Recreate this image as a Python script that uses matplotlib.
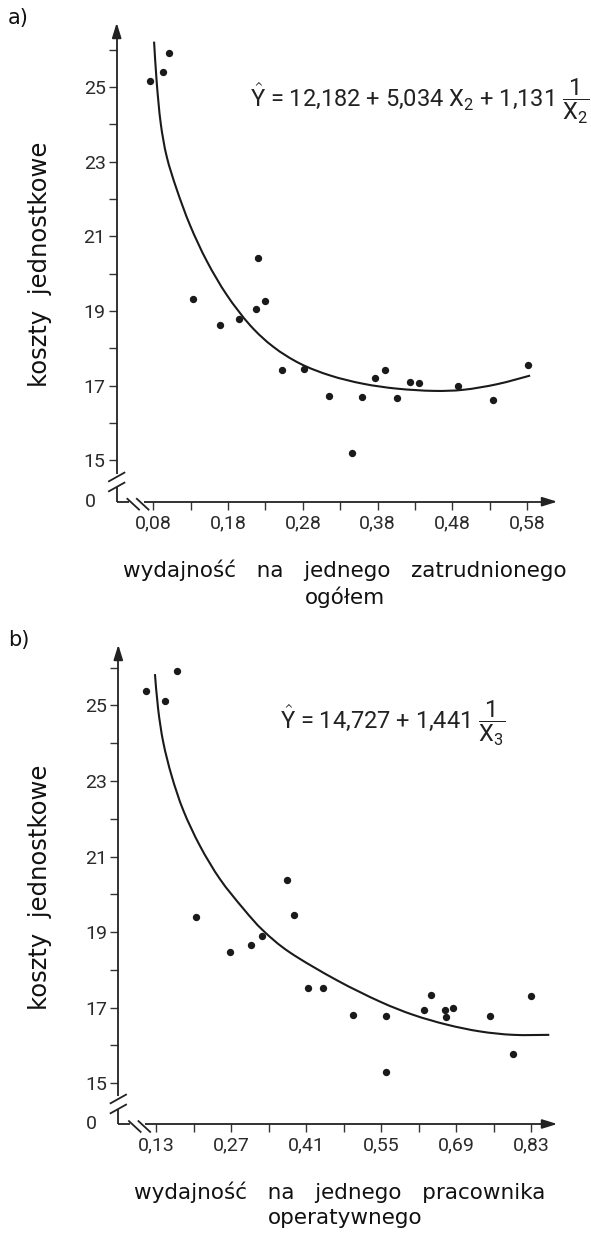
import numpy as np
import matplotlib
matplotlib.use('Agg')
import matplotlib.pyplot as plt
from matplotlib.path import Path
from matplotlib.patches import PathPatch

plt.rcParams['font.family'] = ['DejaVu Sans']
plt.rcParams['mathtext.fontset'] = 'custom'
plt.rcParams['mathtext.rm'] = 'Roboto'
plt.rcParams['mathtext.it'] = 'Roboto'

# dane - wykres a)
x2_pkt = [0.076, 0.093, 0.101, 0.133, 0.169, 0.194, 0.217, 0.220, 0.229, 0.252, 0.281,
          0.315, 0.346, 0.359, 0.376, 0.390, 0.406, 0.424, 0.436, 0.487, 0.535, 0.581]
y2_pkt = [25.17, 25.40, 25.91, 19.32, 18.62, 18.78, 19.05, 20.42, 19.28, 17.42, 17.45,
          16.71, 15.20, 16.70, 17.21, 17.41, 16.68, 17.11, 17.07, 17.00, 16.61, 17.55]
# krzywa
x2_krz = [0.081, 0.0846, 0.0899, 0.0979, 0.1113, 0.1291, 0.1515, 0.1783, 0.2094, 0.2406,
          0.2764, 0.317, 0.361, 0.406, 0.455, 0.495, 0.540, 0.584]
y2_krz = [26.22, 25.11, 24.03, 23.14, 22.26, 21.30, 20.34, 19.43, 18.62, 18.04,
          17.59, 17.27, 17.05, 16.92, 16.86, 16.89, 17.04, 17.27]
xt2 = [0.08, 0.18, 0.28, 0.38, 0.48, 0.58]
xt2_lab = ['0,08', '0,18', '0,28', '0,38', '0,48', '0,58']
xt2_min = [0.13, 0.23, 0.33, 0.43, 0.53]

# dane - wykres b)
x3_pkt = [0.112, 0.147, 0.170, 0.205, 0.268, 0.308, 0.328, 0.374, 0.388, 0.414, 0.442,
          0.498, 0.559, 0.559, 0.630, 0.643, 0.670, 0.671, 0.684, 0.753, 0.797, 0.829]
y3_pkt = [25.39, 25.13, 25.90, 19.40, 18.47, 18.65, 18.89, 20.39, 19.46, 17.51, 17.53,
          16.81, 16.79, 15.30, 16.94, 17.34, 16.94, 16.75, 16.99, 16.79, 15.78, 17.32]
x3_krz = [0.128, 0.134, 0.1436, 0.1593, 0.181, 0.2121, 0.2495, 0.293, 0.330, 0.380,
          0.467, 0.548, 0.610, 0.673, 0.735, 0.797, 0.864]
y3_krz = [25.83, 24.90, 24.02, 23.13, 22.22, 21.28, 20.40, 19.62, 19.04, 18.46,
          17.73, 17.16, 16.81, 16.55, 16.37, 16.28, 16.28]
xt3 = [0.13, 0.27, 0.41, 0.55, 0.69, 0.83]
xt3_lab = ['0,13', '0,27', '0,41', '0,55', '0,69', '0,83']
xt3_min = [0.20, 0.34, 0.48, 0.62, 0.76]

yt = [15, 17, 19, 21, 23, 25]
yt_lab = ['15', '17', '19', '21', '23', '25']
yt_min = [16, 18, 20, 22, 24, 26]

W, H = 591, 1233
fig = plt.figure(figsize=(W / 100, H / 100), dpi=100)
KOLOR = '#1a1a1a'


def gladka(ax, x, y):
    # krzywa Beziera przez odczytane punkty (Catmull-Rom)
    p = np.column_stack([x, y])
    n = len(p)
    verts = [p[0]]
    codes = [Path.MOVETO]
    for i in range(n - 1):
        p0 = p[i - 1] if i > 0 else p[i]
        p3 = p[i + 2] if i + 2 < n else p[i + 1]
        c1 = p[i] + (p[i + 1] - p0) / 6
        c2 = p[i + 1] - (p3 - p[i]) / 6
        verts += [c1, c2, p[i + 1]]
        codes += [Path.CURVE4] * 3
    ax.add_patch(PathPatch(Path(verts, codes), fill=False, ec=KOLOR, lw=1.5, capstyle='butt'))


def panel(rect, xp, yp, xk, yk, xlim, ylim, xt, xt_lab, xt_min, y15):
    left, top, right, bottom = rect
    h = bottom - top
    w = right - left
    ax = fig.add_axes([left / W, 1 - bottom / H, w / W, h / H])
    ax.set_xlim(*xlim)
    ax.set_ylim(*ylim)
    for s in ax.spines.values():
        s.set_visible(False)
    gladka(ax, xk, yk)
    ax.scatter(xp, yp, s=28, color=KOLOR, zorder=3, linewidths=0)

    ax.set_xticks(xt)
    ax.set_xticklabels(xt_lab)
    ax.set_xticks(xt_min, minor=True)
    ax.set_yticks(yt)
    ax.set_yticklabels(yt_lab)
    ax.set_yticks(yt_min, minor=True)
    ax.tick_params(axis='both', which='both', direction='out', length=6, width=1.0,
                   color='#333333', labelsize=14, labelcolor='#2a2a2a')
    ax.tick_params(axis='y', pad=2)
    ax.tick_params(axis='x', pad=3)
    for t in ax.get_xticklabels() + ax.get_yticklabels():
        t.set_family('Roboto')

    tr = ax.transAxes
    k = dict(color='#222222', lw=1.3, transform=tr, clip_on=False, solid_capstyle='butt')
    fy = lambda py: (bottom - py) / h
    fx = lambda px: (px - left) / w
    # os Y z przerwa
    ax.plot([0, 0], [fy(y15 + 13), 1 - 0.03], **k)
    ax.plot([0, 0], [0, fy(y15 + 26)], **k)
    for d in (0, 10):
        ax.plot([fx(left - 8.5), fx(left + 8.5)], [fy(y15 + 21 + d), fy(y15 + 11.5 + d)], **k)
    # os X z przerwa
    ax.plot([0, fx(left + 12)], [0, 0], **k)
    ax.plot([fx(left + 27), 1 - 0.02], [0, 0], **k)
    for d in (0, 9.5):
        ax.plot([fx(left + 10 + d), fx(left + 23 + d)], [fy(bottom - 3.5), fy(bottom + 8.5)], **k)
    # strzalki
    grot = dict(arrowstyle='-|>,head_length=0.9,head_width=0.28', color='#222222', lw=1.3)
    ax.annotate('', xy=(0, 1), xytext=(0, 1 - 0.035), xycoords=tr, textcoords=tr, arrowprops=grot)
    ax.annotate('', xy=(1, 0), xytext=(1 - 0.035, 0), xycoords=tr, textcoords=tr, arrowprops=grot)
    ax.text(-0.048, 0, '0', transform=tr, ha='right', va='center', fontsize=14,
            color='#2a2a2a', family='Roboto')
    return ax


ax1 = panel((116.7, 20, 560, 501.7), x2_pkt, y2_pkt, x2_krz, y2_krz, (0.031, 0.624),
            (13.89, 26.80), xt2, xt2_lab, xt2_min, 460.7)
ax2 = panel((118.3, 642, 560, 1124), x3_pkt, y3_pkt, x3_krz, y3_krz, (0.0596, 0.884),
            (13.92, 26.68), xt3, xt3_lab, xt3_min, 1082.7)

# rownania
rown = dict(fontsize=17, color='#222222', va='center', ha='left', family='Roboto')
fig.text(250 / W, 1 - 101 / H,
         r'$\hat{Y}$ = 12,182 + 5,034 X$_2$ + 1,131 $\dfrac{1}{X_2}$', **rown)
fig.text(280 / W, 1 - 723 / H,
         r'$\hat{Y}$ = 14,727 + 1,441 $\dfrac{1}{X_3}$', **rown)

# opisy osi
opis = dict(color='#111111', ha='center', va='center')
fig.text(40 / W, 1 - 264 / H, 'koszty  jednostkowe', rotation=90, fontsize=17.5, **opis)
fig.text(40 / W, 1 - 887 / H, 'koszty  jednostkowe', rotation=90, fontsize=17.5, **opis)
fig.text(345 / W, 1 - 570 / H, 'wydajność   na   jednego   zatrudnionego', fontsize=15.5, **opis)
fig.text(345 / W, 1 - 597 / H, 'ogółem', fontsize=15.5, **opis)
fig.text(340 / W, 1 - 1192 / H, 'wydajność   na   jednego   pracownika', fontsize=15.5, **opis)
fig.text(345 / W, 1 - 1218 / H, 'operatywnego', fontsize=15.5, **opis)

fig.text(8 / W, 1 - 18 / H, 'a)', fontsize=15, color='#111111', va='center', ha='left')
fig.text(8 / W, 1 - 640 / H, 'b)', fontsize=15, color='#111111', va='center', ha='left')

fig.savefig('out.png', dpi=100, facecolor='white')
